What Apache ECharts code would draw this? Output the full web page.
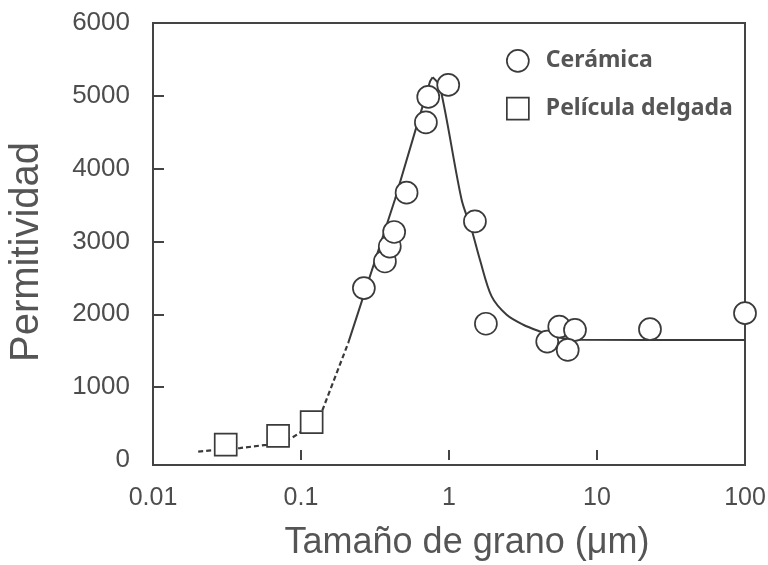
<!DOCTYPE html>
<html>
<head>
<meta charset="utf-8">
<script src="https://cdn.jsdelivr.net/npm/echarts@6/dist/echarts.min.js"></script>
<style>
  html, body { margin: 0; padding: 0; background: #fff; }
  #chart { width: 768px; height: 565px; }
</style>
</head>
<body>
<div id="chart"></div>
<script>
// Grain size (µm) vs permittivity — bulk ceramics and thin films
const ceramicX = [0.266, 0.369, 0.398, 0.426, 0.517, 0.698, 0.724, 0.988, 1.497, 1.776, 4.61, 5.56, 7.10, 6.34, 22.8, 100];
const ceramicY = [2360, 2725, 2930, 3130, 3670, 4635, 4985, 5150, 3275, 1870, 1625, 1830, 1785, 1510, 1795, 2015];

const filmX = [0.031, 0.070, 0.118];
const filmY = [210, 330, 520];

// guide curves: dashed thin-film branch, rising branch, falling branch
const dashX = [0.0202, 0.0386, 0.0584, 0.0863, 0.0981, 0.1398, 0.2083];
const dashY = [115, 162, 207, 300, 372, 688, 1604];
const riseX = [0.2083, 0.4307, 0.604, 0.745, 0.775];
const riseY = [1604, 3573, 4580, 5200, 5255];
const fallX = [0.775, 0.868, 1.217, 1.422, 1.618, 1.941, 2.452, 3.176, 4.118, 5.20, 7.47, 100];
const fallY = [5255, 5129, 3573, 3161, 2749, 2245, 1993, 1856, 1764, 1695, 1650, 1645];

const yLabelValues = [0, 1000, 2000, 3000, 4000, 5000, 6000];
const yTickValues = [1000, 2000, 3000, 4000, 5000];

const seriesNames = ['Cerámica', 'Película delgada'];

const pairs = (xs, ys) => xs.map((x, i) => [x, ys[i]]);
const ink = '#3a3a3a';
const textInk = '#4d4d4d';
const markStyle = { color: '#fff', borderColor: ink, borderWidth: 1.7, opacity: 1 };

const chart = echarts.init(document.getElementById('chart'), null, { renderer: 'canvas' });

chart.setOption({
  animation: false,
  backgroundColor: '#fff',
  grid: {
    left: 153, right: 23, top: 23, bottom: 100,
    outerBoundsMode: 'none',
    show: true, borderColor: '#444', borderWidth: 2, backgroundColor: 'transparent'
  },
  legend: {
    orient: 'vertical',
    left: 501, top: 44,
    itemWidth: 22, itemHeight: 22, itemGap: 24,
    textStyle: {
      fontFamily: 'Noto Sans', fontWeight: 'bold', fontSize: 23, color: '#555',
      padding: [0, 0, 0, 12]
    },
    data: [
      { name: seriesNames[0], icon: 'circle', itemStyle: markStyle },
      { name: seriesNames[1], icon: 'rect', itemStyle: markStyle }
    ]
  },
  xAxis: {
    type: 'log', logBase: 10, min: 0.01, max: 100,
    name: 'Tamaño de grano (\u03bcm)',
    nameLocation: 'middle', nameGap: 60,
    nameTextStyle: { fontFamily: 'Liberation Sans', fontSize: 36, color: '#555', padding: [0, 0, 0, 36] },
    axisLine: { show: false },
    axisTick: { inside: true, length: 10, lineStyle: { color: '#444', width: 2 } },
    splitLine: { show: false },
    minorTick: { show: false },
    axisLabel: {
      margin: 21, fontFamily: 'Liberation Sans', fontSize: 25, color: textInk,
      formatter: v => {
        const e = Math.round(Math.log10(v));
        return e < 0 ? Math.pow(10, e).toFixed(-e) : String(Math.pow(10, e));
      }
    }
  },
  yAxis: {
    type: 'value', min: -70, max: 6000,
    name: 'Permitividad',
    nameLocation: 'middle', nameGap: 106,
    nameTextStyle: { fontFamily: 'Liberation Sans', fontSize: 40, color: '#555', padding: [0, 16, 0, 0] },
    axisLine: { show: false },
    axisTick: { inside: true, length: 11, customValues: yTickValues, lineStyle: { color: '#444', width: 2 } },
    splitLine: { show: false },
    axisLabel: {
      margin: 23, fontFamily: 'Liberation Sans', fontSize: 26, color: textInk,
      customValues: yLabelValues,
      formatter: v => String(v)
    }
  },
  series: [
    {
      type: 'line', data: pairs(dashX, dashY), symbol: 'none', silent: true,
      lineStyle: { color: ink, width: 2.2, type: [5, 3] }, z: 2
    },
    {
      type: 'line', data: pairs(riseX, riseY), symbol: 'none', silent: true,
      lineStyle: { color: ink, width: 2 }, z: 2
    },
    {
      type: 'line', data: pairs(fallX, fallY), symbol: 'none', silent: true, smooth: 0.3,
      lineStyle: { color: ink, width: 2 }, z: 2
    },
    {
      name: seriesNames[1], type: 'scatter', data: pairs(filmX, filmY),
      symbol: 'rect', symbolSize: 22, clip: false,
      itemStyle: markStyle, z: 3
    },
    {
      name: seriesNames[0], type: 'scatter', data: pairs(ceramicX, ceramicY),
      symbol: 'circle', symbolSize: 22, clip: false,
      itemStyle: markStyle, z: 3
    }
  ]
});
</script>
</body>
</html>
